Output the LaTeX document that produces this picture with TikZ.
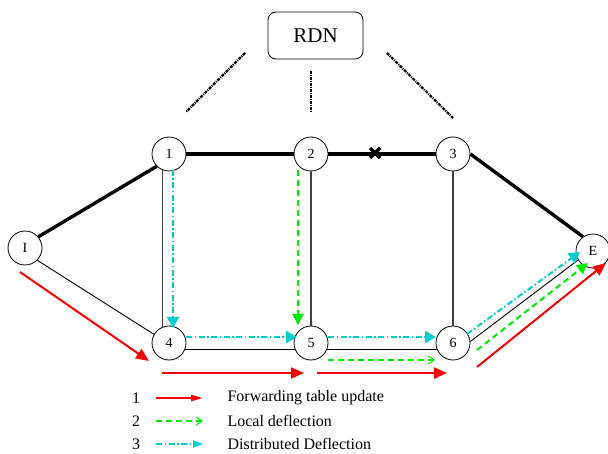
\documentclass[tikz,border=0pt]{standalone}
\usepackage{fontspec}
\setmainfont{Liberation Serif}
\usetikzlibrary{arrows.meta}
\definecolor{locgreen}{RGB}{0,235,0}
\definecolor{distcyan}{RGB}{0,205,210}

\begin{document}
\begin{tikzpicture}[x=1pt,y=-1pt,
  router/.style={draw, circle, line width=0.8pt, minimum size=34pt, inner sep=0pt, font=\fontsize{14}{14}\selectfont},
  mainpath/.style={line width=3.4pt},
  link/.style={line width=0.9pt},
  vlink/.style={line width=1.1pt, black!75},
  fwd/.style={red, line width=2pt, -{Triangle[length=13pt,width=11pt]}},
  loc/.style={locgreen, line width=2pt, dash pattern=on 6pt off 4pt, -{Triangle[length=11pt,width=11pt]}},
  dist/.style={distcyan, line width=2pt, dash pattern=on 6pt off 2.5pt on 1.5pt off 2.5pt, -{Triangle[length=11pt,width=12pt]}},
  rdnlink/.style={line width=2.2pt, dash pattern=on 3pt off 1pt on 1pt off 1pt},
  legtext/.style={anchor=west, font=\fontsize{16}{18}\selectfont}]
  \useasboundingbox (0,0) rectangle (608,454);

  \node[draw, line width=0.8pt, rounded corners=8pt, minimum width=95pt, minimum height=47pt, font=\fontsize{21}{21}\selectfont] (rdn) at (315.5,35.5) {RDN};
  \draw[rdnlink] (245,53) -- (186,112);
  \draw[rdnlink] (311,71) -- (311,113);
  \draw[rdnlink] (387,53) -- (453,118);

  \node[router] (nI) at (25,248) {I};
  \node[router] (n1) at (169,154) {1};
  \node[router] (n2) at (311,154) {2};
  \node[router] (n3) at (453,154) {3};
  \node[router] (n4) at (169,343) {4};
  \node[router] (n5) at (311,343) {5};
  \node[router] (n6) at (453,343) {6};
  \node[router] (nE) at (593,251) {E};

  \draw[mainpath] (nI.40) -- (n1.225);
  \draw[mainpath] (n1) -- (n2);
  \draw[mainpath] (n2) -- (n3);
  \draw[mainpath] (n3.0) -- (nE.125);
  \draw[link] (nI.-45) -- (n4.150);
  \draw[vlink] (n1.248) -- (n4.112);
  \draw[vlink] (n2) -- (n5);
  \draw[vlink] (n3) -- (n6);
  \draw[link] (n4.-21) -- (n5.201);
  \draw[link] (n5.-21) -- (n6.201);
  \draw[link] (n6.5) -- (nE.211);

  \coordinate (cut) at (375,153);
  \draw[line width=3.5pt] ([shift={(-5,-5)}]cut) -- ([shift={(5,5)}]cut);
  \draw[line width=3.5pt] ([shift={(-5,5)}]cut) -- ([shift={(5,-5)}]cut);

  \draw[fwd] ([shift={(-5,24)}]nI.center) -- ([shift={(-20,18)}]n4.center);
  \draw[fwd] ([shift={(-7,30)}]n4.center) -- ([shift={(-7,30)}]n5.center);
  \draw[fwd] ([shift={(6,30)}]n5.center) -- ([shift={(-6,30)}]n6.center);
  \draw[fwd] ([shift={(24,24)}]n6.center) -- ([shift={(13,12)}]nE.center);

  \draw[loc] ([shift={(-13,16)}]n2.center) -- ([shift={(-13,-18)}]n5.center);
  \draw[loc, -{Straight Barb[length=6pt,width=8pt,line width=1pt]}] ([shift={(17,17)}]n5.center) -- ([shift={(-18,17)}]n6.center);
  \draw[loc] ([shift={(24,7)}]n6.center) -- ([shift={(-5,12)}]nE.center);

  \draw[dist] ([shift={(4,16)}]n1.center) -- ([shift={(4,-15)}]n4.center);
  \draw[dist] ([shift={(17,-6)}]n4.center) -- ([shift={(-14,-6)}]n5.center);
  \draw[dist] ([shift={(17,-6)}]n5.center) -- ([shift={(-17,-6)}]n6.center);
  \draw[dist] ([shift={(14,-9)}]n6.center) -- ([shift={(-13,1)}]nE.center);

  \node[legtext, anchor=center] (l1) at (136,398) {1};
  \node[legtext, anchor=center] (l2) at (136,421) {2};
  \node[legtext, anchor=center] (l3) at (136,444) {3};
  \node[legtext] (t1) at (224,398) {Forwarding table update};
  \node[legtext] (t2) at (224,421) {Local deflection};
  \node[legtext] (t3) at (224,444) {Distributed Deflection};
  \draw[fwd, -{Triangle[length=12pt,width=6pt]}] (156,398) -- (203,398);
  \draw[loc, -{Straight Barb[length=6pt,width=8pt,line width=1pt]}] (156,421) -- (203,421);
  \draw[dist, -{Triangle[length=10pt,width=7pt]}] (156,444) -- (203,444);
\end{tikzpicture}
\end{document}
